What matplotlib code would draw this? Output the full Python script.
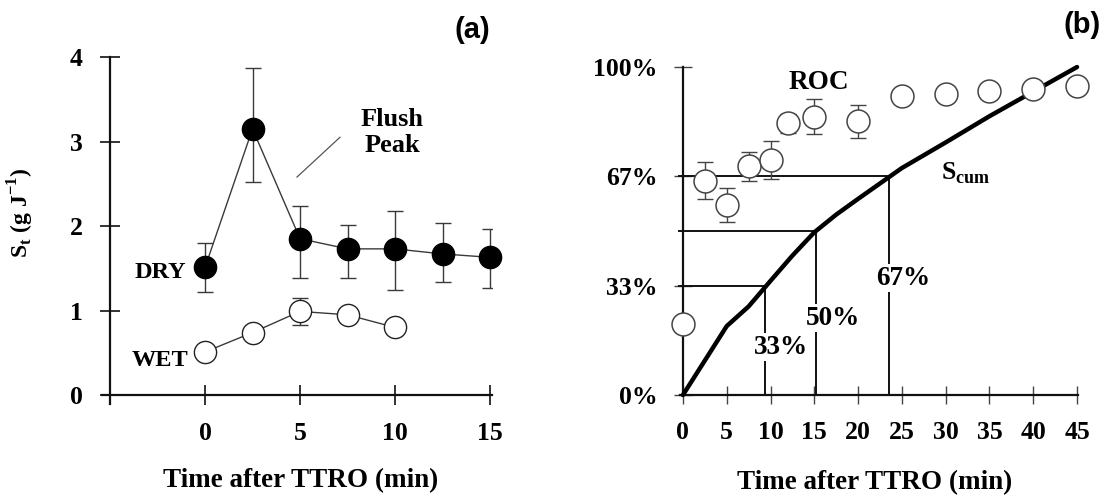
import matplotlib
matplotlib.use("Agg")
import matplotlib.pyplot as plt

plt.rcParams["font.family"] = ["Liberation Serif", "DejaVu Serif"]
plt.rcParams["font.weight"] = "bold"
plt.rcParams["axes.labelweight"] = "bold"
plt.rcParams["mathtext.fontset"] = "custom"
plt.rcParams["mathtext.rm"] = "Liberation Serif:bold"

# ---------------------------------------------------------------------------
# Data
# ---------------------------------------------------------------------------

# (a) specific yield after TTRO
t_dry = [0, 2.5, 5, 7.5, 10, 12.5, 15]
st_dry = [1.51, 3.15, 1.85, 1.73, 1.73, 1.67, 1.63]
dry_err_lo = [0.29, 0.63, 0.46, 0.34, 0.49, 0.33, 0.36]
dry_err_hi = [0.29, 0.72, 0.39, 0.28, 0.45, 0.37, 0.34]

t_wet = [0, 2.5, 5, 7.5, 10]
st_wet = [0.51, 0.74, 0.99, 0.95, 0.80]
wet_err = [0, 0, 0.16, 0, 0]

# (b) rate of change and cumulative yield
t_roc = [0, 2.5, 5, 7.5, 10, 12, 15, 20, 25, 30, 35, 40, 45]
roc = [21.6, 65.4, 58.0, 69.7, 71.6, 82.8, 84.9, 83.4, 91.2, 91.8, 92.8, 93.2, 94.2]
roc_err = [0, 5.5, 5.1, 4.5, 5.8, 3.0, 5.3, 4.9, 0, 0, 0, 0, 0]

t_cum = [0, 2.5, 5, 7.5, 10, 12.5, 15, 17.5, 20, 22.5, 25, 30, 35, 40, 45]
s_cum = [0, 10.5, 21, 27, 34.8, 42.5, 49.6, 55, 59.8, 64.5, 69.2, 77, 85, 92.5, 100]

# thresholds marked on S_cum, and the times where they are reached
thr_pct = [100 / 3, 50, 200 / 3]
thr_time = [9.4, 15.2, 23.5]
thr_labels = ["33%", "50%", "67%"]
thr_label_pos = [(11.2, 14.6), (17.1, 23.4), (25.1, 35.6)]

y_ticks_b = [0, 100 / 3, 200 / 3, 100]
y_ticklabels_b = ["0%", "33%", "67%", "100%"]

INK = "#111111"
GREY = "#3a3a3a"
FS = 17.5    # DRY / WET
AFS = 19     # other annotations
TFS = 18.5   # tick labels
LFS = 19.5   # axis labels

fig = plt.figure(figsize=(11.06, 4.95), dpi=100, facecolor="white")

# ---------------------------------------------------------------------------
# Panel (a)
# ---------------------------------------------------------------------------
ax = fig.add_axes([0.0926, 0.1848, 0.3522, 0.700])
ax.set_xlim(-5.4, 15.1)
ax.set_ylim(-0.1, 4.0)
for side in ("top", "right"):
    ax.spines[side].set_visible(False)
ax.spines["left"].set_position(("data", -5))
ax.spines["bottom"].set_position(("data", 0))
for side in ("left", "bottom"):
    ax.spines[side].set_linewidth(1.6)
    ax.spines[side].set_color(INK)

ax.errorbar(t_dry, st_dry, yerr=[dry_err_lo, dry_err_hi], fmt="none",
            ecolor=GREY, elinewidth=1.0, capsize=6, capthick=1.0, zorder=2)
ax.plot(t_dry, st_dry, "-", color=GREY, lw=1.0, zorder=2)
ax.plot(t_dry, st_dry, "o", ms=16, mfc="black", mec="black", zorder=3,
        clip_on=False)

ax.errorbar(t_wet, st_wet, yerr=wet_err, fmt="none",
            ecolor=GREY, elinewidth=1.0, capsize=6, capthick=1.0, zorder=2)
ax.plot(t_wet, st_wet, "-", color=GREY, lw=1.0, zorder=2)
ax.plot(t_wet, st_wet, "o", ms=16, mfc="white", mec="#222222", mew=1.0,
        zorder=3, clip_on=False)

ax.set_xticks([0, 5, 10, 15])
ax.set_yticks([0, 1, 2, 3, 4])
ax.tick_params(direction="inout", length=15, width=1.2, color=INK,
               labelsize=TFS, pad=12)
for lab in ax.get_xticklabels() + ax.get_yticklabels():
    lab.set_fontweight("bold")

ax.text(-1.0, 1.45, "DRY", ha="right", va="center", fontsize=FS)
ax.text(-0.9, 0.41, "WET", ha="right", va="center", fontsize=FS)
ax.text(9.85, 3.11, "Flush\nPeak", ha="center", va="center", fontsize=AFS,
        linespacing=1.15)
ax.plot([7.1, 4.84], [3.05, 2.58], color="#555555", lw=0.9)

ax.set_ylabel(r"S$_\mathregular{t}$ (g J$^\mathregular{-1}$)", fontsize=17)
ax.yaxis.set_label_coords(-0.17, 0.55)
ax.set_xlabel("Time after TTRO (min)", fontsize=LFS)
ax.xaxis.set_label_coords(0.51, -0.185)

fig.text(472 / 1106, 1 - 30 / 495, "(a)", ha="center", va="center",
         fontsize=21, fontweight="bold", family="Liberation Sans")

# ---------------------------------------------------------------------------
# Panel (b)
# ---------------------------------------------------------------------------
bx = fig.add_axes([0.6147, 0.2020, 0.3599, 0.6626])
bx.set_xlim(-0.35, 45.1)
bx.set_ylim(0, 100)
for side in ("top", "right"):
    bx.spines[side].set_visible(False)
bx.spines["left"].set_position(("data", 0))
for side in ("left", "bottom"):
    bx.spines[side].set_linewidth(1.6)
    bx.spines[side].set_color(INK)

# reference lines to the threshold crossings
for p, t in zip(thr_pct, thr_time):
    bx.plot([-0.4, t], [p, p], color=INK, lw=1.4, zorder=2, clip_on=False)
    bx.plot([t, t], [p, 0], color=INK, lw=1.4, zorder=2)
for lab, (x, y) in zip(thr_labels, thr_label_pos):
    bx.text(x, y, lab, ha="center", va="center", fontsize=AFS + 0.5, zorder=3,
            bbox=dict(facecolor="white", edgecolor="none", pad=1.0))

bx.plot(t_cum, s_cum, "-", color="black", lw=3.2, zorder=4, clip_on=False,
        solid_capstyle="round")

bx.errorbar(t_roc, roc, yerr=roc_err, fmt="none", ecolor="#444444",
            elinewidth=1.0, capsize=6, capthick=1.0, zorder=5)
bx.plot(t_roc, roc, "o", ms=16.5, mfc="white", mec="#444444", mew=1.1,
        ls="none", zorder=6, clip_on=False)

bx.set_xticks(list(range(0, 50, 5)))
bx.set_yticks(y_ticks_b)
bx.set_yticklabels(y_ticklabels_b)
bx.tick_params(direction="inout", length=13, width=1.0, color="#444444",
               labelsize=TFS, pad=12)
for lab in bx.get_xticklabels() + bx.get_yticklabels():
    lab.set_fontweight("bold")

bx.text(15.5, 95.4, "ROC", ha="center", va="center", fontsize=AFS + 0.5)
bx.text(32.3, 67.7, r"S$_\mathregular{cum}$", ha="center", va="center",
        fontsize=AFS - 0.5)

bx.set_xlabel("Time after TTRO (min)", fontsize=LFS)
bx.xaxis.set_label_coords(0.49, -0.23)

fig.text(1082 / 1106, 1 - 25 / 495, "(b)", ha="center", va="center",
         fontsize=21, fontweight="bold", family="Liberation Sans")

fig.savefig("out.png", dpi=100, facecolor="white")
